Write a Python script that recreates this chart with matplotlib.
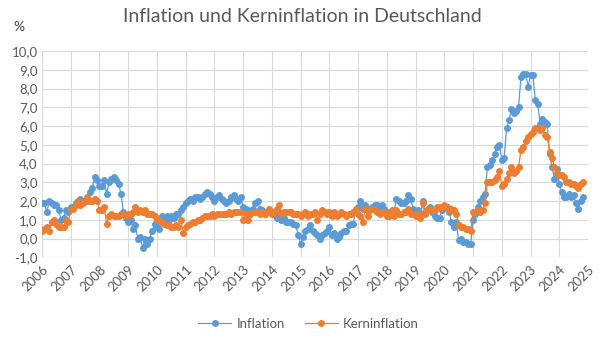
import numpy as np
import matplotlib.pyplot as plt
from matplotlib.ticker import FuncFormatter

# Monatswerte Jan 2006 - Nov 2024, Veraenderung ggue. Vorjahresmonat in %
inflation = [
    1.9, 1.9, 1.4, 2.0, 1.9, 1.8, 1.8, 1.5, 1.0, 1.1, 1.5, 1.4,   # 2006
    1.7, 1.7, 1.9, 2.0, 2.1, 2.0, 2.0, 2.0, 2.5, 2.7, 3.3, 3.1,   # 2007
    2.8, 2.8, 3.1, 2.4, 3.0, 3.2, 3.3, 3.1, 2.9, 2.4, 1.4, 1.1,   # 2008
    0.9, 1.0, 0.5, 0.7, 0.0, 0.1, -0.5, 0.0, -0.3, 0.0, 0.4, 0.8, # 2009
    0.6, 0.5, 1.2, 1.0, 1.2, 1.0, 1.2, 1.1, 1.3, 1.3, 1.5, 1.7,   # 2010
    1.9, 2.0, 2.1, 2.0, 2.2, 2.2, 2.1, 2.2, 2.4, 2.5, 2.4, 2.2,   # 2011
    2.0, 2.2, 2.3, 2.1, 2.0, 1.9, 2.0, 2.2, 2.3, 2.1, 2.0, 2.2,   # 2012
    1.7, 1.6, 1.5, 1.3, 1.6, 1.9, 2.0, 1.6, 1.5, 1.3, 1.4, 1.5,   # 2013
    1.4, 1.3, 1.1, 1.4, 1.0, 1.1, 0.9, 0.9, 0.9, 0.8, 0.7, 0.2,   # 2014
    -0.3, 0.1, 0.4, 0.5, 0.7, 0.4, 0.3, 0.2, 0.0, 0.2, 0.3, 0.4,  # 2015
    0.6, 0.2, 0.3, 0.0, 0.1, 0.3, 0.4, 0.4, 0.7, 0.8, 0.8, 1.5,   # 2016
    1.7, 2.0, 1.6, 1.8, 1.5, 1.6, 1.7, 1.8, 1.8, 1.6, 1.8, 1.6,   # 2017
    1.4, 1.2, 1.4, 1.4, 2.1, 2.0, 1.9, 1.9, 2.0, 2.3, 2.1, 1.6,   # 2018
    1.4, 1.5, 1.3, 2.0, 1.4, 1.6, 1.7, 1.4, 1.2, 1.1, 1.1, 1.5,   # 2019
    1.7, 1.7, 1.4, 0.9, 0.6, 0.9, -0.1, 0.0, -0.2, -0.2, -0.3, -0.3, # 2020
    1.0, 1.3, 1.7, 2.0, 2.2, 2.4, 3.8, 3.9, 4.2, 4.5, 4.9, 5.0,   # 2021
    4.2, 4.3, 5.9, 6.3, 6.9, 6.7, 6.8, 7.0, 8.6, 8.8, 8.8, 8.1,   # 2022
    8.7, 8.7, 7.4, 7.2, 6.1, 6.4, 6.2, 6.1, 4.5, 3.8, 3.2, 3.7,   # 2023
    2.9, 2.5, 2.2, 2.2, 2.4, 2.2, 2.3, 1.9, 1.6, 2.0, 2.2,        # 2024
]
kerninflation = [
    0.4, 0.5, 0.6, 0.4, 0.9, 1.0, 0.8, 0.6, 0.6, 0.6, 1.0, 0.9,   # 2006
    1.6, 1.6, 1.8, 2.0, 1.8, 1.9, 2.0, 2.2, 2.0, 2.0, 2.1, 2.0,   # 2007
    1.5, 1.5, 1.7, 0.8, 1.2, 1.3, 1.2, 1.2, 1.2, 1.3, 1.3, 1.2,   # 2008
    1.3, 1.3, 1.4, 1.7, 1.4, 1.5, 1.4, 1.5, 1.3, 1.3, 1.3, 1.2,   # 2009
    1.0, 1.0, 0.9, 0.8, 0.7, 0.7, 0.6, 0.6, 0.7, 0.6, 1.0, 0.3,   # 2010
    0.6, 0.7, 0.8, 0.9, 0.9, 1.0, 1.0, 1.1, 1.2, 1.2, 1.2, 1.3,   # 2011
    1.2, 1.3, 1.3, 1.3, 1.3, 1.3, 1.4, 1.3, 1.4, 1.4, 1.4, 1.4,   # 2012
    1.0, 1.3, 1.0, 1.3, 1.4, 1.4, 1.4, 1.3, 1.4, 1.3, 1.4, 1.6,   # 2013
    1.3, 1.4, 1.6, 1.8, 1.3, 1.4, 1.4, 1.4, 1.4, 1.3, 1.3, 1.3,   # 2014
    1.2, 1.3, 1.4, 1.2, 1.3, 1.3, 1.4, 1.0, 1.3, 1.5, 1.4, 1.3,   # 2015
    1.4, 1.2, 1.4, 1.2, 1.3, 1.4, 1.3, 1.2, 1.3, 1.3, 1.4, 1.6,   # 2016
    1.3, 1.2, 0.9, 1.6, 1.2, 1.5, 1.6, 1.5, 1.4, 1.3, 1.4, 1.4,   # 2017
    1.2, 1.3, 1.5, 1.2, 1.5, 1.3, 1.3, 1.4, 1.4, 1.6, 1.3, 1.3,   # 2018
    1.2, 1.3, 1.1, 1.9, 1.3, 1.6, 1.5, 1.5, 1.5, 1.7, 1.7, 1.7,   # 2019
    1.8, 1.7, 1.5, 1.6, 1.5, 1.3, 0.7, 0.6, 0.6, 0.5, 0.5, 0.4,   # 2020
    1.4, 1.4, 1.5, 1.4, 1.5, 1.9, 3.0, 3.0, 3.0, 3.1, 3.3, 3.6,   # 2021
    2.8, 2.9, 3.2, 3.5, 3.8, 3.5, 3.6, 3.8, 4.7, 4.9, 5.2, 5.4,   # 2022
    5.6, 5.7, 5.9, 5.9, 5.8, 5.9, 5.5, 5.4, 4.6, 4.3, 3.8, 3.5,   # 2023
    3.4, 3.4, 3.3, 3.0, 3.0, 2.9, 2.9, 2.8, 2.7, 2.9, 3.0,        # 2024
]
years = list(range(2006, 2026))

plt.rcParams['font.family'] = ['Lato', 'DejaVu Sans']
grey = '#595959'
blue = '#5B9BD5'
orange = '#ED7D31'

months = 2006 + np.arange(len(inflation)) / 12

fig = plt.figure(figsize=(5.99, 3.40), dpi=100)
ax = fig.add_axes([0.0701, 0.2432, 0.9115, 0.6068])

ax.plot(months, inflation, color=blue, lw=0.9, marker='o', ms=4.0,
        label='Inflation', zorder=3)
ax.plot(months, kerninflation, color=orange, lw=0.9, marker='o', ms=4.0,
        label='Kerninflation', zorder=4)

ax.set_xlim(2006, 2025)
ax.set_ylim(-1, 10)
ax.set_yticks(np.arange(-1, 11, 1))
ax.yaxis.set_major_formatter(FuncFormatter(lambda v, p: f'{v:.1f}'.replace('.', ',')))
ax.set_xticks(years)
ax.set_xticklabels([str(y) for y in years], rotation=45, ha='right',
                   rotation_mode='anchor')

ax.grid(True, color='#D9D9D9', lw=0.8)
ax.set_axisbelow(True)
for s in ax.spines.values():
    s.set_visible(False)
ax.tick_params(length=0, labelsize=9.5, colors=grey, pad=3)
ax.tick_params(axis='x', pad=4)

fig.text(0.505, 0.95, 'Inflation und Kerninflation in Deutschland',
         ha='center', va='center', fontsize=14, color=grey)
fig.text(0.032, 0.922, '%', ha='center', va='center', fontsize=10, color='#404040')

fig.legend(loc='center', bbox_to_anchor=(0.515, 1 - 324 / 340), ncol=2,
           frameon=False, fontsize=9.5, labelcolor=grey, handlelength=2.5,
           columnspacing=1.5, handletextpad=0.4)

fig.savefig('out.png', dpi=100)
